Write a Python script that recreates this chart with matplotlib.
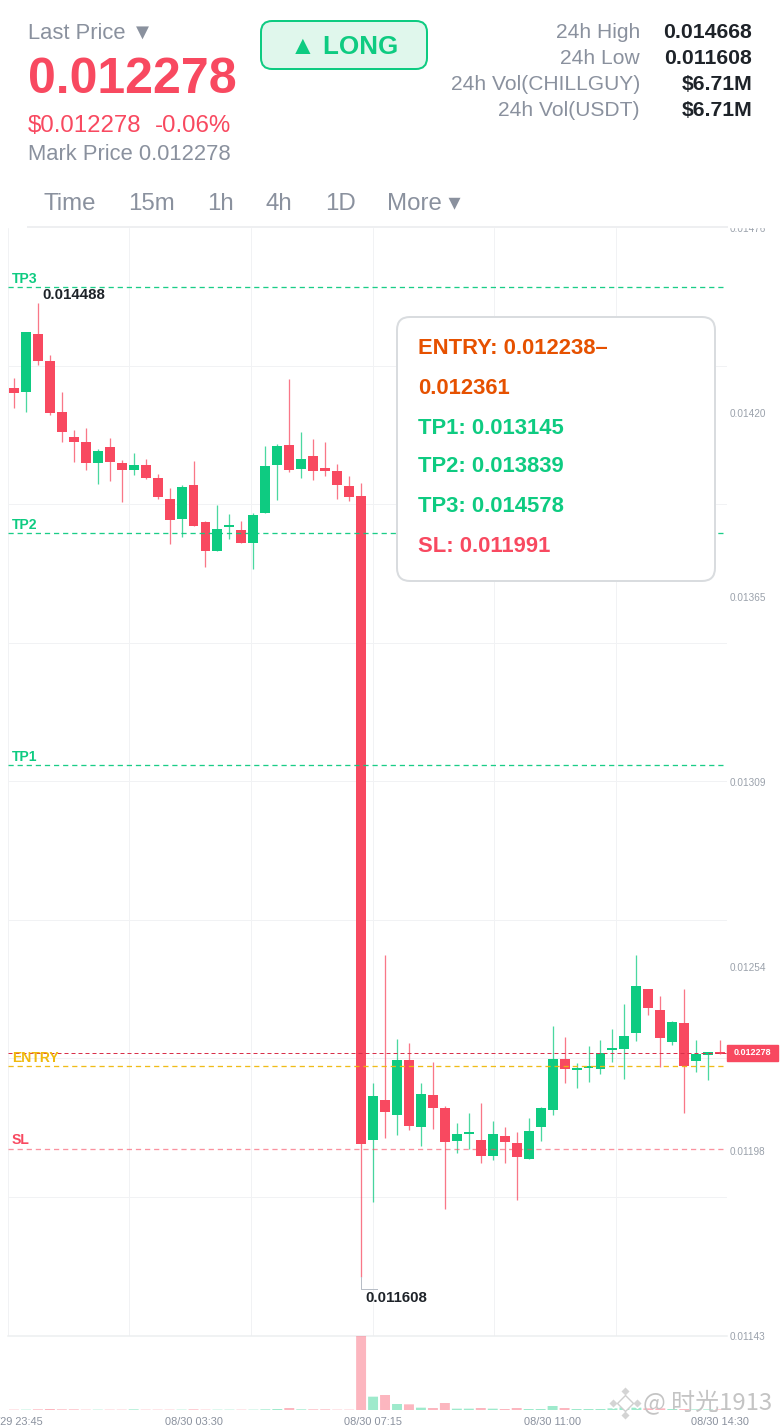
import matplotlib
matplotlib.use("Agg")
import matplotlib.pyplot as plt
from matplotlib.patches import FancyBboxPatch, Rectangle

plt.rcParams['font.family'] = ['Liberation Sans', 'DejaVu Sans']

# 15m candles
opens = [0.014279, 0.014267, 0.014442, 0.014362, 0.014209, 0.014133, 0.014118, 0.014056, 0.014103, 0.014056,
         0.014034, 0.014049, 0.014008, 0.013947, 0.013887, 0.013987, 0.013877, 0.013789, 0.013863, 0.013853,
         0.013814, 0.013904, 0.014047, 0.014109, 0.014037, 0.014077, 0.014039, 0.014031, 0.013986, 0.013954,
         0.012018, 0.012138, 0.012095, 0.012259, 0.012059, 0.012156, 0.012114, 0.012015, 0.012037, 0.012019,
         0.011971, 0.012030, 0.012009, 0.011961, 0.012057, 0.012109, 0.012263, 0.012230, 0.012236, 0.012232,
         0.012290, 0.012294, 0.012342, 0.012472, 0.012411, 0.012313, 0.012372, 0.012256, 0.012274, 0.012282]
highs = [0.014309, 0.014447, 0.014535, 0.014379, 0.014269, 0.014153, 0.014160, 0.014098, 0.014131, 0.014064,
         0.014085, 0.014066, 0.014022, 0.013979, 0.013988, 0.014061, 0.013880, 0.013927, 0.013900, 0.013879,
         0.013903, 0.014105, 0.014111, 0.014307, 0.014148, 0.014127, 0.014117, 0.014053, 0.014016, 0.013993,
         0.012192, 0.012574, 0.012323, 0.012312, 0.012192, 0.012253, 0.012121, 0.012071, 0.012101, 0.012131,
         0.012076, 0.012059, 0.012042, 0.012086, 0.012119, 0.012362, 0.012330, 0.012250, 0.012301, 0.012321,
         0.012354, 0.012428, 0.012574, 0.012472, 0.012452, 0.012376, 0.012473, 0.012321, 0.012285, 0.012319]
lows = [0.014221, 0.014209, 0.014349, 0.014200, 0.014118, 0.014058, 0.014032, 0.013992, 0.014000, 0.013936,
        0.014017, 0.014006, 0.013947, 0.013811, 0.013832, 0.013866, 0.013742, 0.013789, 0.013827, 0.013814,
        0.013736, 0.013904, 0.013943, 0.014026, 0.014009, 0.014003, 0.014016, 0.013945, 0.013940, 0.011608,
        0.011833, 0.012024, 0.012035, 0.012050, 0.012002, 0.012052, 0.011813, 0.011979, 0.011993, 0.011951,
        0.011959, 0.011951, 0.011838, 0.011961, 0.012016, 0.012093, 0.012190, 0.012175, 0.012193, 0.012219,
        0.012253, 0.012203, 0.012318, 0.012395, 0.012239, 0.012305, 0.012099, 0.012225, 0.012200, 0.012278]
closes = [0.014264, 0.014447, 0.014360, 0.014204, 0.014149, 0.014119, 0.014054, 0.014091, 0.014057, 0.014034,
          0.014047, 0.014009, 0.013953, 0.013882, 0.013983, 0.013866, 0.013789, 0.013857, 0.013865, 0.013814,
          0.013898, 0.014045, 0.014106, 0.014032, 0.014067, 0.014029, 0.014029, 0.013987, 0.013953, 0.012007,
          0.012151, 0.012104, 0.012259, 0.012062, 0.012157, 0.012116, 0.012014, 0.012037, 0.012039, 0.011972,
          0.012037, 0.012014, 0.011969, 0.012047, 0.012115, 0.012262, 0.012233, 0.012232, 0.012239, 0.012282,
          0.012294, 0.012332, 0.012481, 0.012417, 0.012325, 0.012374, 0.012241, 0.012278, 0.012285, 0.012278]
volumes = [10, 10, 20, 30, 20, 20, 10, 10, 10, 10, 20, 10, 10, 10, 10, 20, 10, 10, 10, 10,
           10, 20, 30, 60, 20, 20, 20, 10, 10, 2220,
           400, 450, 180, 170, 70, 60, 210, 40, 40, 60, 40, 30, 60, 30, 30, 120, 60, 30, 30, 30,
           50, 80, 70, 50, 50, 30, 30, 20, 20, 20]

# levels as they sit on the price axis of the picture
levels = {'TP3': 0.014583, 'TP2': 0.013844, 'TP1': 0.013148, 'ENTRY': 0.012242, 'SL': 0.011992}
last_price = 0.012281
last_label = '0.012278'
price_ticks = [0.014760, 0.014205, 0.013651, 0.013095, 0.012539, 0.011986, 0.011430]
price_tick_labels = ['0.01476', '0.01420', '0.01365', '0.01309', '0.01254', '0.01198', '0.01143']
grid_prices = [0.014346, 0.013930, 0.013514, 0.013098, 0.012682, 0.012266, 0.011849]
grid_slots = [-0.5, 9.65, 19.8, 30.0, 40.1, 50.3]
time_slots = [0, 15, 30, 45, 59]
time_labels = ['08/29 23:45', '08/30 03:30', '08/30 07:15', '08/30 11:00', '08/30 14:30']

tabs = ['Time', '15m', '1h', '4h', '1D', 'More ▾']
stat_names = ['24h High', '24h Low', '24h Vol(CHILLGUY)', '24h Vol(USDT)']
stat_values = ['0.014668', '0.011608', '$6.71M', '$6.71M']
signal_lines = ['ENTRY: 0.012238–', '0.012361', 'TP1: 0.013145', 'TP2: 0.013839', 'TP3: 0.014578', 'SL: 0.011991']

RED = '#f84960'
GREEN = '#0ecb81'
YELLOW = '#f0b90b'
GREY = '#8a919e'
DARK = '#1e2329'
GRID = '#f1f2f4'
W, H = 780, 1428
PX = 0.72  # one css pixel in points at dpi 100

fig = plt.figure(figsize=(W / 100, H / 100), dpi=100)


def axes_px(left, top, right, bottom):
    return fig.add_axes([left / W, 1 - bottom / H, (right - left) / W, (bottom - top) / H])


ax = axes_px(8, 228, 727, 1336)
vol = axes_px(8, 1336, 727, 1410)
vol.patch.set_visible(False)
ov = axes_px(0, 0, W, H)  # header and floating box, in pixels
ov.set_xlim(0, W)
ov.set_ylim(H, 0)
ov.axis('off')
ov.set_zorder(10)

xs = list(range(len(opens)))
colors = [GREEN if c >= o else RED for o, c in zip(opens, closes)]

# price panel
ax.set_xlim(-0.5, 59.57)
ax.set_ylim(0.01143, 0.014761)
ax.vlines(xs, lows, highs, colors=colors, linewidth=1.3 * PX, alpha=0.75, zorder=3)
ax.bar(xs, [max(abs(c - o), 0.000005) for o, c in zip(opens, closes)],
       bottom=[min(o, c) for o, c in zip(opens, closes)], width=0.83, color=colors, zorder=4)

ax.set_yticks(grid_prices, minor=True)
ax.set_xticks([])
ax.set_xticks(grid_slots, minor=True)
ax.grid(which='minor', color=GRID, linewidth=1 * PX)
ax.set_axisbelow(True)
ax.yaxis.tick_right()
ax.set_yticks(price_ticks, price_tick_labels)
ax.tick_params(which='both', length=0)
ax.tick_params(axis='y', labelsize=10 * PX, labelcolor='#9aa1ab', pad=2)
for s in ax.spines.values():
    s.set_visible(False)

# level lines
level_colors = {'TP3': GREEN, 'TP2': GREEN, 'TP1': GREEN, 'ENTRY': YELLOW, 'SL': RED}
label_offsets = {'TP3': 8, 'TP2': 8, 'TP1': 8, 'ENTRY': 8, 'SL': 9}
for name, price in levels.items():
    ln_alpha = 0.6 if name == 'SL' else 0.95
    ax.axhline(price, color=level_colors[name], linewidth=1.3 * PX, linestyle=(0, (4, 3)), alpha=ln_alpha, zorder=5)
    ax.annotate(name, xy=(-0.5, price), xytext=(4 * PX, label_offsets[name] * PX), textcoords='offset points',
                fontsize=14 * PX, fontweight='bold', color=level_colors[name], va='center', zorder=6)
ax.axhline(last_price, color='#d9304a', linewidth=1 * PX, linestyle=(0, (4, 3)), zorder=5)

# last price tag
ax.add_patch(Rectangle((1.0, last_price - 0.000024), 51 / 719, 0.000048, transform=ax.get_yaxis_transform(),
                       color=RED, clip_on=False, zorder=6))
ax.text(1 + 25.5 / 719, last_price, last_label, transform=ax.get_yaxis_transform(), color='white',
        fontsize=9 * PX, fontweight='bold', ha='center', va='center', zorder=7)

# high / low markers
ax.annotate('0.014488', xy=(2, highs[2]), xytext=(4 * PX, 1 * PX), textcoords='offset points',
            fontsize=15 * PX, fontweight='bold', color=DARK, va='bottom', zorder=6)
ax.plot([29, 29, 30.3], [min(lows), min(lows) - 0.000036, min(lows) - 0.000036], color='#b7bdc6', linewidth=1 * PX, zorder=3)
ax.annotate('0.011608', xy=(29, min(lows)), xytext=(4 * PX, -21 * PX), textcoords='offset points',
            fontsize=15 * PX, fontweight='bold', color=DARK, va='center', zorder=6)

# volume panel
vol.set_xlim(-0.5, 59.57)
vol.set_ylim(0, max(volumes))
vol.bar(xs, volumes, width=0.83, color=colors, alpha=0.4, snap=False)
vol.axhline(max(volumes), color='#eceef0', linewidth=1.5 * PX, clip_on=False, zorder=0)
vol.set_yticks([])
vol.set_xticks(time_slots, time_labels)
vol.tick_params(axis='x', length=0, labelsize=11 * PX, labelcolor=GREY, pad=5)
for s in vol.spines.values():
    s.set_visible(False)

# header sits above the chart and hides the half of the top tick label
ov.add_patch(Rectangle((0, 0), W, 227, color='white', zorder=1))
ov.plot([28, 727], [227, 227], color='#eeeff1', linewidth=2 * PX, zorder=2)


def px_text(x, y, s, size, color=GREY, weight='normal', ha='left', **kw):
    return ov.text(x, y + 2, s, fontsize=size * PX, color=color, fontweight=weight, ha=ha, va='center', zorder=3, **kw)


px_text(28, 31, 'Last Price ▼', 22)
px_text(28, 78, '0.012278', 50, RED, 'bold')
px_text(28, 124, '$0.012278', 24, RED)
px_text(155, 124, '-0.06%', 24, RED)
px_text(28, 153, 'Mark Price 0.012278', 22)

ov.add_patch(FancyBboxPatch((261, 21), 166, 48, boxstyle='round,pad=0,rounding_size=11',
                            facecolor='#e0f7ec', edgecolor=GREEN, linewidth=2 * PX, zorder=2))
px_text(344, 45, '▲ LONG', 26, GREEN, 'bold', ha='center')

for y, name, value in zip([31, 57, 83, 109], stat_names, stat_values):
    px_text(640, y, name, 21, ha='right')
    px_text(752, y, value, 21.3, DARK, 'bold', ha='right')

for x, tab in zip([44, 128, 207, 266, 325, 387], tabs):
    px_text(x, 202, tab, 24)

# signal box
ov.add_patch(FancyBboxPatch((397, 317), 318, 264, boxstyle='round,pad=0,rounding_size=13',
                            facecolor='white', edgecolor='#d9dcdf', linewidth=2 * PX, zorder=2))
signal_colors = ['#e65100', '#e65100', GREEN, GREEN, GREEN, RED]
for y, line, c in zip([346, 386, 426, 464, 504, 544], signal_lines, signal_colors):
    px_text(418, y, line, 22, c, 'bold')

# watermark
ov.plot([625, 613, 637, 625], [1391, 1403, 1403, 1415], linestyle='none', marker='D', markersize=5,
        markerfacecolor='#d4d4d4', markeredgecolor='white', zorder=4)
ov.plot([625], [1403], marker='D', markersize=8, markerfacecolor='white', markeredgecolor='#cfcfcf', zorder=4)
ov.text(643, 1402, '@ 时光1913', fontsize=24 * PX, color='#c4c4c4', ha='left', va='center', zorder=4,
        family=['Noto Sans CJK SC', 'DejaVu Sans'])

fig.savefig('out.png', dpi=100, facecolor='white')
